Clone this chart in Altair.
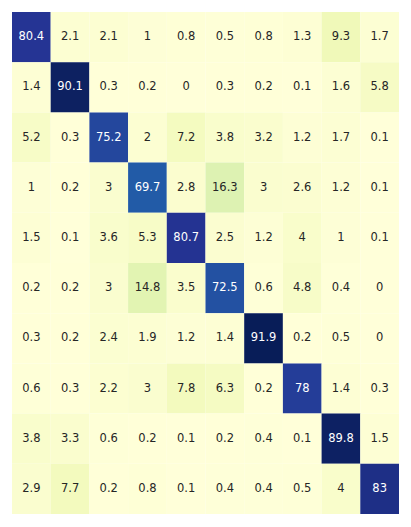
import altair as alt
import pandas as pd

labels = [str(i) for i in range(10)]
matrix = [
    [80.4, 2.1, 2.1, 1, 0.8, 0.5, 0.8, 1.3, 9.3, 1.7],
    [1.4, 90.1, 0.3, 0.2, 0, 0.3, 0.2, 0.1, 1.6, 5.8],
    [5.2, 0.3, 75.2, 2, 7.2, 3.8, 3.2, 1.2, 1.7, 0.1],
    [1, 0.2, 3, 69.7, 2.8, 16.3, 3, 2.6, 1.2, 0.1],
    [1.5, 0.1, 3.6, 5.3, 80.7, 2.5, 1.2, 4, 1, 0.1],
    [0.2, 0.2, 3, 14.8, 3.5, 72.5, 0.6, 4.8, 0.4, 0],
    [0.3, 0.2, 2.4, 1.9, 1.2, 1.4, 91.9, 0.2, 0.5, 0],
    [0.6, 0.3, 2.2, 3, 7.8, 6.3, 0.2, 78, 1.4, 0.3],
    [3.8, 3.3, 0.6, 0.2, 0.1, 0.2, 0.4, 0.1, 89.8, 1.5],
    [2.9, 7.7, 0.2, 0.8, 0.1, 0.4, 0.4, 0.5, 4, 83],
]

rows = []
for i, r in enumerate(matrix):
    for j, v in enumerate(r):
        rows.append({"true": labels[i], "pred": labels[j], "value": v,
                     "label": f"{v:g}"})
df = pd.DataFrame(rows)

vmax = max(max(r) for r in matrix)
ylgnbu = ['#ffffd9', '#edf8b1', '#c7e9b4', '#7fcdbb', '#41b6c4',
          '#1d91c0', '#225ea8', '#253494', '#081d58']
dom = [vmax * k / 8 for k in range(9)]

xenc = alt.X("pred:N", sort=labels, axis=None,
             scale=alt.Scale(paddingInner=0, paddingOuter=0))
yenc = alt.Y("true:N", sort=labels, axis=None,
             scale=alt.Scale(paddingInner=0, paddingOuter=0))

heat = alt.Chart(df).mark_rect().encode(
    x=xenc, y=yenc,
    color=alt.Color("value:Q", legend=None,
                    scale=alt.Scale(domain=dom, range=ylgnbu, interpolate="rgb")),
)

text = alt.Chart(df).mark_text(font="DejaVu Sans", fontSize=11.5).encode(
    x=xenc, y=yenc,
    text="label:N",
    color=alt.condition(alt.datum.value > 40, alt.value("white"), alt.value("#262626")),
)

chart = (heat + text).properties(
    width=387, height=502,
    padding={"left": 4, "top": 4, "right": 4, "bottom": 4},
).configure_view(strokeWidth=0)

chart.save("out.html", embed_options={"renderer": "svg", "actions": False})
